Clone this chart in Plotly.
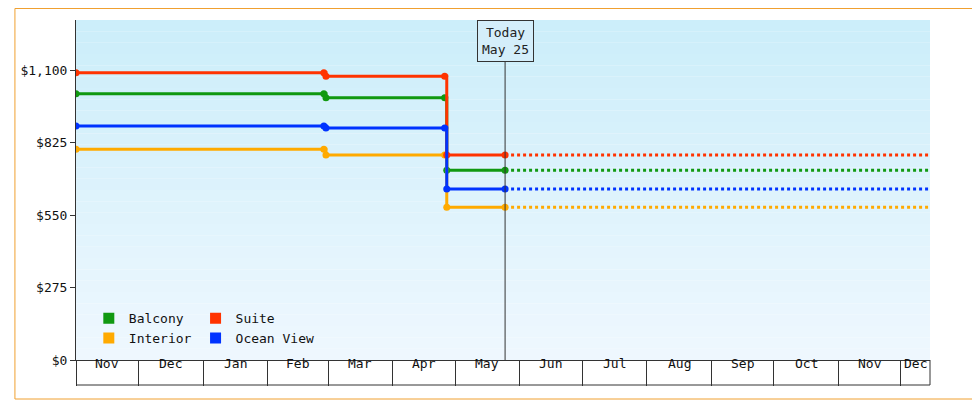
import plotly.graph_objects as go
import pandas as pd

# price history per cabin type (step changes)
dates = ["2023-11-01", "2024-02-28", "2024-02-29", "2024-04-26", "2024-04-27", "2024-05-25"]
balcony = [1010, 1010, 995, 995, 720, 720]
suite = [1090, 1090, 1077, 1077, 778, 778]
interior = [800, 800, 778, 778, 580, 580]
ocean_view = [888, 888, 880, 880, 649, 649]

today = "2024-05-25"
end_date = "2024-12-15"

month_starts = pd.date_range("2023-11-01", "2024-12-01", freq="MS")
month_labels = ["Nov", "Dec", "Jan", "Feb", "Mar", "Apr", "May", "Jun",
                "Jul", "Aug", "Sep", "Oct", "Nov", "Dec"]

y_ticks = [0, 275, 550, 825, 1100]
y_labels = ["$0", "$275", "$550", "$825", "$1,100"]

series = [
    ("Balcony", balcony, "#119911", "legend"),
    ("Interior", interior, "#ffaa00", "legend"),
    ("Suite", suite, "#ff3300", "legend2"),
    ("Ocean View", ocean_view, "#0033ff", "legend2"),
]

fig = go.Figure()
for name, vals, color, leg in series:
    fig.add_trace(go.Scatter(
        x=dates, y=vals, mode="lines+markers", showlegend=False,
        line=dict(color=color, width=3, shape="hv"),
        marker=dict(size=7, color=color),
    ))
    fig.add_trace(go.Scatter(
        x=[today, end_date], y=[vals[-1], vals[-1]], mode="lines",
        line=dict(color=color, width=3, dash="dot"), showlegend=False,
    ))
    # legend-only entry with square swatch
    fig.add_trace(go.Scatter(
        x=[None], y=[None], mode="markers", name=name, legend=leg,
        marker=dict(symbol="square", size=11, color=color),
    ))

# background gradient
shapes = []
n = 30
for i in range(n):
    t = i / n
    r = int(204 + (240 - 204) * t)
    g = int(238 + (248 - 238) * t)
    b = int(250 + (255 - 250) * t)
    shapes.append(dict(type="rect", xref="paper", yref="paper", x0=0, x1=1,
                       y0=1 - (i + 1) / n, y1=1 - i / n, line_width=0,
                       fillcolor=f"rgb({r},{g},{b})", layer="below"))
shapes.append(dict(type="line", xref="x", yref="paper", x0=today, x1=today,
                   y0=0, y1=1, line=dict(color="#333", width=1)))
shapes.append(dict(type="line", xref="paper", yref="paper", x0=0, x1=1,
                   y0=-25 / 340, y1=-25 / 340, line=dict(color="#333", width=1)))
shapes.append(dict(type="line", xref="paper", yref="paper", x0=1, x1=1,
                   y0=0, y1=-25 / 340, line=dict(color="#333", width=1)))
# outer orange border
shapes.append(dict(type="rect", xref="paper", yref="paper",
                   x0=-61.5 / 860, x1=1 + 49 / 860, y0=-39 / 340, y1=1 + 11.5 / 340,
                   line=dict(color="#f0a030", width=1)))

annotations = []
edges = list(month_starts) + [pd.Timestamp(end_date)]
for i, lab in enumerate(month_labels):
    mid = edges[i] + (edges[i + 1] - edges[i]) / 2
    annotations.append(dict(x=mid, y=-12.5 / 340, xref="x", yref="paper",
                            text=lab, showarrow=False,
                            font=dict(size=13, color="#111")))
annotations.append(dict(x=today, y=1, xref="x", yref="paper", yanchor="top",
                        text="Today<br>May 25", showarrow=False,
                        bgcolor="#d4eefa", bordercolor="#333", borderwidth=1,
                        borderpad=4, font=dict(size=13, color="#222")))

fig.update_layout(
    width=972, height=392,
    margin=dict(l=62, r=50, t=12, b=40),
    paper_bgcolor="white", plot_bgcolor="rgba(0,0,0,0)",
    font=dict(family="DejaVu Sans Mono", size=13, color="#111"),
    shapes=shapes, annotations=annotations,
    legend=dict(x=0.015, y=0.02, xanchor="left", yanchor="bottom",
                bgcolor="rgba(0,0,0,0)", tracegroupgap=0, itemwidth=30,
                font=dict(size=13)),
    legend2=dict(x=0.14, y=0.02, xanchor="left", yanchor="bottom",
                 bgcolor="rgba(0,0,0,0)", tracegroupgap=0, itemwidth=30,
                 font=dict(size=13)),
)
fig.update_xaxes(
    range=["2023-11-01", end_date], tickvals=month_starts, showticklabels=False,
    ticks="outside", ticklen=25, tickcolor="#333", showgrid=False,
    showline=True, linecolor="#333", zeroline=False,
)
fig.update_yaxes(
    range=[0, 1290], tickvals=y_ticks, ticktext=y_labels, ticks="outside",
    ticklen=5, tickcolor="#333", showgrid=False, showline=True,
    linecolor="#333", zeroline=False,
)

fig.write_html("out.html")
